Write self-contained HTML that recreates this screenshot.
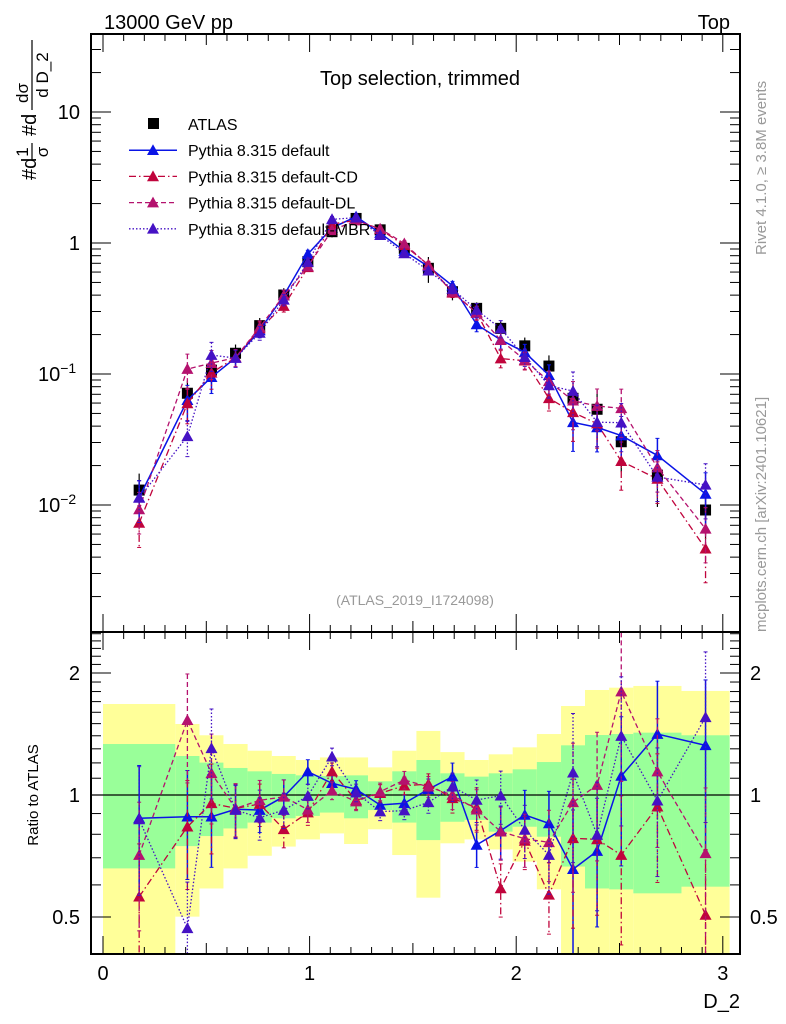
<!DOCTYPE html>
<html><head><meta charset="utf-8">
<style>
html,body{margin:0;padding:0;background:#fff;}
svg{display:block;font-family:"Liberation Sans",Arial,sans-serif;}
</style></head>
<body>
<svg id="chart" width="786" height="1024" viewBox="0 0 786 1024" xmlns="http://www.w3.org/2000/svg">
<defs>
<clipPath id="clipMain"><rect x="91" y="34" width="649" height="598"/></clipPath>
<clipPath id="clipRatio"><rect x="91" y="632" width="649" height="322"/></clipPath>
</defs>
<g id="ratioBands" clip-path="url(#clipRatio)"></g>
<g id="mainMarks" clip-path="url(#clipMain)"></g>
<g id="ratioMarks" clip-path="url(#clipRatio)"></g>
<g id="axes"></g>
<text x="104" y="29" font-size="20">13000 GeV pp</text>
<text x="730" y="29" font-size="20" text-anchor="end">Top</text>
<text x="420" y="85" font-size="20" text-anchor="middle">Top selection, trimmed</text>
<text x="415" y="605" font-size="14" fill="#999" text-anchor="middle">(ATLAS_2019_I1724098)</text>
<text transform="translate(766,255) rotate(-90)" font-size="15" fill="#999">Rivet 4.1.0, ≥ 3.8M events</text>
<text transform="translate(766,632) rotate(-90)" font-size="15" fill="#999">mcplots.cern.ch [arXiv:2401.10621]</text>
<g font-size="20">
  <text transform="translate(36,180) rotate(-90)" text-anchor="start">#d</text>
  <text transform="translate(28,152) rotate(-90)" font-size="17" text-anchor="middle">1</text>
  <line x1="32" y1="143" x2="32" y2="160" stroke="#000" stroke-width="1.2"/>
  <text transform="translate(48,152) rotate(-90)" font-size="17" text-anchor="middle">σ</text>
  <text transform="translate(36,136) rotate(-90)" text-anchor="start">#d</text>
  <text transform="translate(28,93) rotate(-90)" font-size="17" text-anchor="middle">dσ</text>
  <line x1="32" y1="40" x2="32" y2="110" stroke="#000" stroke-width="1.2"/>
  <text transform="translate(48,75) rotate(-90)" font-size="17" text-anchor="middle">d D_2</text>
</g>
<text transform="translate(38,795) rotate(-90)" font-size="15" text-anchor="middle">Ratio to ATLAS</text>
<text x="740" y="1008" font-size="20" text-anchor="end">D_2</text>
<g id="legend" font-size="16"></g>
</svg>
<script>
const binEdges=[0,0.35,0.467,0.583,0.7,0.817,0.933,1.05,1.167,1.283,1.4,1.517,1.633,1.75,1.867,1.983,2.1,2.217,2.333,2.45,2.567,2.8,3.033];
const atlasValues=[0.0130,0.0713,0.107,0.144,0.234,0.401,0.720,1.22,1.54,1.26,0.91,0.641,0.425,0.317,0.223,0.164,0.115,0.0652,0.0538,0.0304,0.0169,0.00916];
const greenHi=[1.336,1.248,1.202,1.166,1.144,1.127,1.118,1.114,1.118,1.081,1.144,1.220,1.131,1.110,1.131,1.157,1.206,1.326,1.406,1.414,1.425,1.404];
const greenLo=[0.659,0.748,0.792,0.827,0.855,0.876,0.888,0.905,0.876,0.918,0.855,0.774,0.859,0.868,0.812,0.835,0.789,0.666,0.588,0.585,0.572,0.594];
const yellowHi=[1.677,1.497,1.404,1.336,1.286,1.248,1.220,1.238,1.238,1.170,1.286,1.439,1.276,1.220,1.260,1.311,1.414,1.658,1.816,1.840,1.858,1.806];
const yellowLo=[0.30,0.501,0.588,0.659,0.708,0.746,0.777,0.804,0.757,0.823,0.711,0.558,0.760,0.777,0.734,0.685,0.585,0.30,0.30,0.30,0.30,0.30];
const ratioDefault=[0.876,0.884,0.884,0.922,0.918,0.991,1.142,1.069,1.033,0.945,0.954,1.033,1.110,0.753,0.817,0.893,0.851,0.656,0.727,1.114,1.414,1.326];
const ratioCD=[0.561,0.835,0.954,0.927,0.95,0.823,0.905,1.142,0.97,1.01,1.054,1.064,0.981,0.93,0.588,0.77,0.567,0.782,0.777,0.711,0.936,0.506];
const ratioDL=[0.711,1.53,1.131,0.927,0.97,0.99,0.92,1.025,0.963,1.019,1.089,1.048,1.0,0.92,0.812,0.78,0.764,0.959,1.058,1.80,1.142,0.718];
const ratioMBR=[0.87,0.469,1.304,0.918,0.879,0.918,0.994,1.243,1.013,0.910,0.915,0.959,1.048,0.972,0.996,0.820,0.711,1.135,0.797,1.398,0.968,1.555];
const mcRelErr=[0.35,0.3,0.25,0.15,0.12,0.1,0.07,0.05,0.05,0.05,0.05,0.06,0.08,0.12,0.15,0.15,0.2,0.4,0.35,0.4,0.35,0.45];
const mainTickLabels=[["10",1],["1",0],["10","-1"],["10","-2"]];
const ratioTicks=[0.5,1,2];
const xTicks=[0,1,2,3];

const NS="http://www.w3.org/2000/svg";
const X0=103,XS=206.6;
const xp=v=>X0+XS*v;
const ym=v=>243-131*Math.log10(v);
const yr=v=>795-122*Math.log2(v);
function mk(tag,attrs,parent){const e=document.createElementNS(NS,tag);for(const k in attrs)e.setAttribute(k,attrs[k]);parent.appendChild(e);return e;}
const centers=atlasValues.map((_,i)=>(binEdges[i]+binEdges[i+1])/2);

const rb=document.getElementById('ratioBands');
for(let i=0;i<atlasValues.length;i++){
  const x1=xp(binEdges[i]),x2=xp(binEdges[i+1]);
  const r1=mk('rect',{x:x1,y:yr(yellowHi[i]),width:x2-x1,height:yr(yellowLo[i])-yr(yellowHi[i]),fill:'#ffff99'},rb);
  
  
  const r2=mk('rect',{x:x1,y:yr(greenHi[i]),width:x2-x1,height:yr(greenLo[i])-yr(greenHi[i]),fill:'#99ff99'},rb);
  
  
}
const one=mk('line',{x1:91,x2:740,y1:yr(1),y2:yr(1),stroke:'#000','stroke-width':1.3},rb);



const series=[
  {name:'default',vals:ratioDefault,color:'#0a14e6',dash:'',w:1.5},
  {name:'default-CD',vals:ratioCD,color:'#c0043c',dash:'7,3,1.5,3',w:1.3},
  {name:'default-DL',vals:ratioDL,color:'#b4126e',dash:'5,3',w:1.3},
  {name:'default-MBR',vals:ratioMBR,color:'#4512c4',dash:'1.5,2',w:1.3}
];
function tri(g,x,y,c){const s=6;return mk('polygon',{points:`${x},${y-s} ${x-s},${y+s*0.8} ${x+s},${y+s*0.8}`,fill:c},g);}
function drawSeries(parent,yf,getV,getLo,getHi,s){
  const g=mk('g',{},parent);
  
  
  const pts=centers.map((c,i)=>xp(c)+','+yf(getV(i))).join(' ');
  const pl=mk('polyline',{points:pts,fill:'none',stroke:s.color,'stroke-width':s.w,'stroke-dasharray':s.dash||'none'},g);
  
  
  centers.forEach((c,i)=>{
    const x=xp(c);
    const e=mk('line',{x1:x,x2:x,y1:yf(getHi(i)),y2:yf(getLo(i)),stroke:s.color,'stroke-width':s.w,'stroke-dasharray':s.dash||'none'},g);
    
    
    mk('line',{x1:x-2,x2:x+2,y1:yf(getHi(i)),y2:yf(getHi(i)),stroke:s.color},g);
    mk('line',{x1:x-2,x2:x+2,y1:yf(getLo(i)),y2:yf(getLo(i)),stroke:s.color},g);
    const t=tri(g,x,yf(getV(i)),s.color);
    
    
  });
}
const mm=document.getElementById('mainMarks'), rm=document.getElementById('ratioMarks');
const dg=mk('g',{},mm);


centers.forEach((c,i)=>{
  const x=xp(c),y=ym(atlasValues[i]);
  const eb=mk('line',{x1:x,x2:x,y1:ym(atlasValues[i]*greenHi[i]),y2:ym(atlasValues[i]*greenLo[i]),stroke:'#000','stroke-width':1.2},dg);
  
  
  const r=mk('rect',{x:x-5.5,y:y-5.5,width:11,height:11,fill:'#000'},dg);
  
  
});
series.forEach(s=>{
  drawSeries(mm,ym,i=>s.vals[i]*atlasValues[i],i=>s.vals[i]*atlasValues[i]*(1-mcRelErr[i]),i=>s.vals[i]*atlasValues[i]*(1+mcRelErr[i]),s);
  drawSeries(rm,yr,i=>s.vals[i],i=>s.vals[i]*(1-mcRelErr[i]),i=>s.vals[i]*(1+mcRelErr[i]),s);
});

const ax=document.getElementById('axes');
const f1=mk('rect',{x:91,y:34,width:649,height:598,fill:'none',stroke:'#000','stroke-width':2},ax);


const f2=mk('rect',{x:91,y:632,width:649,height:322,fill:'none',stroke:'#000','stroke-width':2},ax);


for(let k=0;k<=30;k++){
  const x=xp(k/10),L=(k%10==0)?18:(k%5==0?11:7);
  mk('line',{x1:x,x2:x,y1:954,y2:954-L,stroke:'#000'},ax);
  mk('line',{x1:x,x2:x,y1:632,y2:632-L,stroke:'#000'},ax);
  mk('line',{x1:x,x2:x,y1:34,y2:34+L,stroke:'#000'},ax);
  mk('line',{x1:x,x2:x,y1:632,y2:632+L,stroke:'#000'},ax);
}
xTicks.forEach(v=>{
  const t=mk('text',{x:xp(v),y:980,'font-size':20,'text-anchor':'middle'},ax);
  t.textContent=v;
  
  
});
for(let d=-3;d<=1;d++){
  for(let m=1;m<=9;m++){
    const y=ym(m*Math.pow(10,d));
    if(y<34||y>632)continue;
    const L=m==1?20:10;
    mk('line',{x1:91,x2:91+L,y1:y,y2:y,stroke:'#000'},ax);
    mk('line',{x1:740,x2:740-L,y1:y,y2:y,stroke:'#000'},ax);
  }
}
mainTickLabels.forEach(([b,e])=>{
  const y=ym(Math.pow(10,+e))+7;
  const t=mk('text',{x:80,y:y,'font-size':20,'text-anchor':'end'},ax);
  
  
  if(e==1||e==0){t.textContent=b;}
  else{t.setAttribute('text-anchor','start');t.setAttribute('x',38);t.textContent=b;const s=mk('tspan',{dy:-8,'font-size':14},t);s.textContent='\u2212'+String(e).slice(1);}
});
for(let k=3;k<=25;k++){
  const y=yr(k/10);
  if(y<632||y>954)continue;
  const L=(k==5||k==10||k==20)?20:10;
  mk('line',{x1:91,x2:91+L,y1:y,y2:y,stroke:'#000'},ax);
  mk('line',{x1:740,x2:740-L,y1:y,y2:y,stroke:'#000'},ax);
}
ratioTicks.forEach(v=>{
  const t=mk('text',{x:80,y:yr(v)+7,'font-size':20,'text-anchor':'end'},ax);
  t.textContent=v;
  
  
  const t2=mk('text',{x:750,y:yr(v)+7,'font-size':20},ax);
  t2.textContent=v;
  
  
});
const lg=document.getElementById('legend');
const rows=[['ATLAS',null],['Pythia 8.315 default',series[0]],['Pythia 8.315 default-CD',series[1]],['Pythia 8.315 default-DL',series[2]],['Pythia 8.315 default-MBR',series[3]]];
rows.forEach(([lab,s],i)=>{
  const y=124+i*26.2;
  const g=mk('g',{},lg);
  
  
  if(!s){mk('rect',{x:148,y:y-6,width:11,height:11,fill:'#000'},g);}
  else{
    mk('line',{x1:129,x2:177,y1:y,y2:y,stroke:s.color,'stroke-width':s.w,'stroke-dasharray':s.dash||'none'},g);
    tri(g,153,y,s.color);
  }
  const t=mk('text',{x:188,y:y+6},g);
  t.textContent=lab;
});
</script>
</body></html>
